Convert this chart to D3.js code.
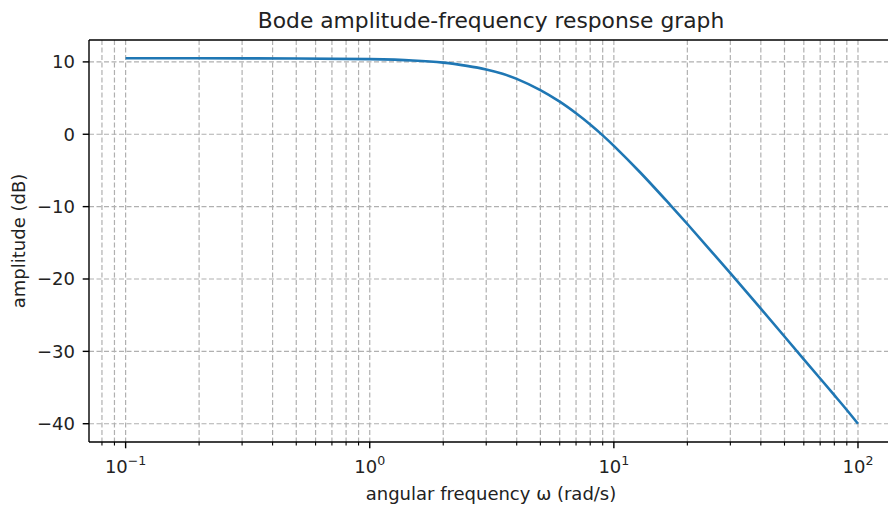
<!DOCTYPE html>
<html>
<head>
<meta charset="utf-8">
<script src="https://cdn.jsdelivr.net/npm/d3@7"></script>
<style>
  body { margin: 0; background: #fff; }
  svg { display: block; font-family: "DejaVu Sans", sans-serif; }
</style>
</head>
<body>
<div id="chart"></div>
<script>
// values
const omega = [0.1, 0.2, 0.5, 1, 1.5, 2, 2.5, 3, 3.5, 4, 5, 6, 7, 8, 9, 10, 12.8, 17, 20, 30, 40, 50, 60, 70, 80, 90, 100];
const amplitude = [10.5, 10.5, 10.47, 10.38, 10.2, 9.9, 9.45, 8.95, 8.35, 7.65, 6.1, 4.5, 2.9, 1.35, -0.15, -1.6, -5.25, -9.75, -12.4, -19.2, -24.1, -27.95, -31.1, -33.75, -36.05, -38.1, -40];

const yTicks = [-40, -30, -20, -10, 0, 10];
const xMajor = [0.1, 1, 10, 100];
const xExp = ["\u22121", "0", "1", "2"];

const width = 888;
const height = 509;
const plotLeft = 89, plotTop = 40, plotBottom = 442;

const x = d3.scaleLog()
    .domain([Math.pow(10, -1.15), Math.pow(10, 2.15)])
    .range([plotLeft, 894.6]);

const y = d3.scaleLinear()
    .domain([-42.525, 13.025])
    .range([plotBottom, plotTop]);

// minor positions 2..9 in each decade that falls in the domain
const xMinor = [];
[0.01, 0.1, 1, 10, 100].forEach(d => {
    for (let k = 2; k <= 9; k++) {
        const v = d * k;
        if (v > x.domain()[0] && v < x.domain()[1]) xMinor.push(v);
    }
});

const svg = d3.select("#chart")
    .append("svg")
    .attr("width", width)
    .attr("height", height);

const grid = svg.append("g")
    .attr("stroke", "#b0b0b0")
    .attr("stroke-width", 1.2)
    .attr("stroke-dasharray", "5,2.5");

grid.selectAll("line.vx")
    .data(xMajor.concat(xMinor))
    .enter()
    .append("line")
    .attr("x1", d => x(d)).attr("x2", d => x(d))
    .attr("y1", plotTop).attr("y2", plotBottom);

grid.selectAll("line.hy")
    .data(yTicks)
    .enter()
    .append("line")
    .attr("x1", plotLeft).attr("x2", width)
    .attr("y1", d => y(d)).attr("y2", d => y(d));

const line = d3.line()
    .x((d, i) => x(omega[i]))
    .y(d => y(d))
    .curve(d3.curveCatmullRom.alpha(0.5));

svg.append("path")
    .datum(amplitude)
    .attr("d", line)
    .attr("fill", "none")
    .attr("stroke", "#1f77b4")
    .attr("stroke-width", 2.6);

// spines
const spines = svg.append("g").attr("stroke", "#000").attr("stroke-width", 1.4);
spines.append("line").attr("x1", plotLeft).attr("x2", plotLeft).attr("y1", plotTop).attr("y2", plotBottom);
spines.append("line").attr("x1", plotLeft).attr("x2", width).attr("y1", plotBottom).attr("y2", plotBottom);
spines.append("line").attr("x1", plotLeft).attr("x2", width).attr("y1", plotTop).attr("y2", plotTop);

// y ticks
const yAxis = svg.append("g");
yAxis.selectAll("line")
    .data(yTicks)
    .enter()
    .append("line")
    .attr("x1", plotLeft - 6.3).attr("x2", plotLeft)
    .attr("y1", d => y(d)).attr("y2", d => y(d))
    .attr("stroke", "#000").attr("stroke-width", 1.4);
yAxis.selectAll("text")
    .data(yTicks)
    .enter()
    .append("text")
    .attr("x", plotLeft - 14)
    .attr("y", d => y(d))
    .attr("dy", "0.36em")
    .attr("text-anchor", "end")
    .attr("font-size", 18)
    .attr("fill", "#222")
    .text(d => d < 0 ? "\u2212" + Math.abs(d) : d);

// x ticks
const xAxis = svg.append("g");
xAxis.selectAll("line.major")
    .data(xMajor)
    .enter()
    .append("line")
    .attr("x1", d => x(d)).attr("x2", d => x(d))
    .attr("y1", plotBottom).attr("y2", plotBottom + 6.3)
    .attr("stroke", "#000").attr("stroke-width", 1.4);
xAxis.selectAll("line.minor")
    .data(xMinor)
    .enter()
    .append("line")
    .attr("x1", d => x(d)).attr("x2", d => x(d))
    .attr("y1", plotBottom).attr("y2", plotBottom + 3.6)
    .attr("stroke", "#000").attr("stroke-width", 1.1);

const xl = xAxis.selectAll("text")
    .data(xMajor)
    .enter()
    .append("text")
    .attr("x", d => x(d))
    .attr("y", 473)
    .attr("text-anchor", "middle")
    .attr("font-size", 18)
    .attr("fill", "#222");
xl.append("tspan").text("10");
xl.append("tspan")
    .attr("dy", -8)
    .attr("font-size", 12.6)
    .text((d, i) => xExp[i]);

// titles
svg.append("text")
    .attr("x", 491)
    .attr("y", 28)
    .attr("text-anchor", "middle")
    .attr("font-size", 21.8)
    .attr("fill", "#222")
    .text("Bode amplitude-frequency response graph");

svg.append("text")
    .attr("x", 491)
    .attr("y", 500)
    .attr("text-anchor", "middle")
    .attr("font-size", 18)
    .attr("fill", "#222")
    .text("angular frequency \u03c9 (rad/s)");

svg.append("text")
    .attr("transform", `translate(25,${(plotTop + plotBottom) / 2}) rotate(-90)`)
    .attr("text-anchor", "middle")
    .attr("font-size", 18)
    .attr("fill", "#222")
    .text("amplitude (dB)");
</script>
</body>
</html>
